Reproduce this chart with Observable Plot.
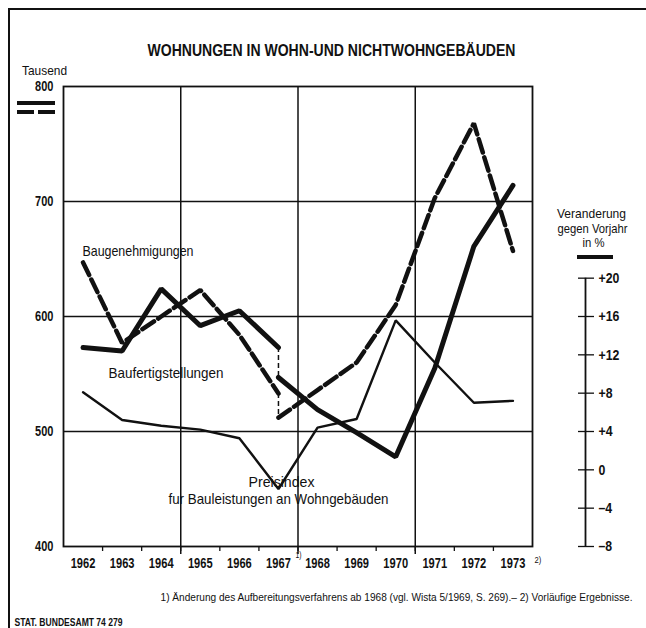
<!DOCTYPE html>
<html>
<head>
<meta charset="utf-8">
<script src="https://cdn.jsdelivr.net/npm/d3@7"></script>
<script src="https://cdn.jsdelivr.net/npm/@observablehq/plot@0.6"></script>
<style>
  body { margin: 0; background: #fff; }
  #wrap { position: relative; width: 646px; height: 628px; overflow: hidden; background: #fff; }
  #wrap svg.key { position: absolute; left: 0; top: 0; }
  .frameL { position: absolute; left: 8px; top: 8px; width: 2px; height: 620px; background: #111; }
  .frameT { position: absolute; left: 8px; top: 8px; width: 638px; height: 2px; background: #111; }
</style>
</head>
<body>
<div id="wrap">
  <div class="frameL"></div>
  <div class="frameT"></div>
</div>
<script>
// ---- data (Tausend Wohnungen; Preisindex in % gegen Vorjahr) ----
const years = [1962, 1963, 1964, 1965, 1966, 1967, 1968, 1969, 1970, 1971, 1972, 1973];
const yearsAlt = [1962, 1963, 1964, 1965, 1966, 1967];          // bisheriges Verfahren
const yearsNeu = [1967, 1968, 1969, 1970, 1971, 1972, 1973];    // ab 1968 geändertes Verfahren
const baugenehmigungenAlt = [647, 577, 600, 623, 584, 533];
const baugenehmigungenNeu = [512, 536, 560, 610, 703, 768, 657];
const baufertigAlt = [573, 570, 624, 592, 605, 573];
const baufertigNeu = [547, 519, 499, 478, 555, 661, 714];
const preisindex = [8.1, 5.2, 4.6, 4.2, 3.3, -2.0, 4.4, 5.3, 15.6, 11.2, 7.0, 7.2];
const leftTicks = [400, 500, 600, 700, 800];
const rightTicks = [-8, -4, 0, 4, 8, 12, 16, 20];
const rightTickLabels = ["–8", "–4", "0", "+4", "+8", "+12", "+16", "+20"];

// right axis (% change) is tied to the left axis: +4 % ↔ 500, 1 % ↔ 100/12 Tausend
const pctToV = p => 500 + (p - 4) * 100 / 12;

const font = '"Liberation Sans","Arial",sans-serif';
const ink = "#111";

const mkRows = (xs, vs) => xs.map((x, i) => ({x, v: vs[i]}));
const genAlt = mkRows(yearsAlt, baugenehmigungenAlt);
const genNeu = mkRows(yearsNeu, baugenehmigungenNeu);
const fertAlt = mkRows(yearsAlt, baufertigAlt);
const fertNeu = mkRows(yearsNeu, baufertigNeu);
const preis = mkRows(years, preisindex);
const bruch = [
  {x: 1967, v1: baugenehmigungenAlt[baugenehmigungenAlt.length - 1], v2: baugenehmigungenNeu[0]},
  {x: 1967, v1: baufertigAlt[baufertigAlt.length - 1], v2: baufertigNeu[0]}
];

const boundaries = years.slice(0, -1).map(y => y + 0.5);
const gridYears = [1964.5, 1967.5, 1970.5];

const X0 = 63, Y0 = 86;
const lab = (t, px, py, o = {}) =>
  Plot.text([t], {text: d => d, frameAnchor: "top-left", dx: px - X0, dy: py - Y0, fill: ink, textAnchor: "middle", ...o});

// target widths of the condensed lettering
const T = {
  title: "WOHNUNGEN IN WOHN-UND NICHTWOHNGEBÄUDEN",
  gen: "Baugenehmigungen",
  fert: "Baufertigstellungen",
  p1: "Preisindex",
  p2: "fur Bauleistungen an Wohngebäuden",
  foot: "1) Änderung des Aufbereitungsverfahrens ab 1968 (vgl. Wista 5/1969, S. 269).– 2) Vorläufige Ergebnisse.",
  stat: "STAT. BUNDESAMT 74 279",
  r1: "Veranderung", r2: "gegen Vorjahr", r3: "in %"
};
const widths = new Map([
  [T.title, 368], [T.gen, 111], [T.fert, 115], [T.p1, 66], [T.p2, 220],
  [T.stat, 108], [T.r1, 69], [T.r2, 70], [T.r3, 22], ["Tausend", 45]
]);

const chart = Plot.plot({
  width: 646,
  height: 628,
  marginLeft: 63,
  marginRight: 114,
  marginTop: 86,
  marginBottom: 82,
  style: {fontFamily: font, background: "transparent", color: ink, overflow: "visible"},
  x: {domain: [1961.5, 1973.5], label: null},
  y: {domain: [400, 800], label: null},
  marks: [
    Plot.gridY([500, 600, 700], {stroke: ink, strokeOpacity: 1, strokeWidth: 1.5}),
    Plot.gridX(gridYears, {stroke: ink, strokeOpacity: 1, strokeWidth: 1.5}),
    Plot.frame({stroke: ink, strokeWidth: 1.8}),
    Plot.axisY(leftTicks, {tickSize: 0, tickPadding: 10, fontSize: 14.5, fontWeight: "bold", label: null}),
    Plot.axisX(boundaries, {tickSize: 5, tickFormat: () => "", label: null, strokeWidth: 1.3}),
    Plot.axisX(gridYears, {tickSize: 8, tickFormat: () => "", label: null, strokeWidth: 1.5}),
    Plot.axisX(years, {tickSize: 0, tickPadding: 11, fontSize: 15, fontWeight: "bold", tickFormat: d => String(d), label: null}),
    // right axis: Veränderung gegen Vorjahr in %
    Plot.ruleX([1973.5], {y1: pctToV(-8), y2: pctToV(20), dx: 53, stroke: ink, strokeWidth: 1.8}),
    Plot.axisY(rightTicks.map(pctToV), {anchor: "right", dx: 45, tickSize: 16, tickPadding: 5, fontSize: 15, fontWeight: "bold",
      tickFormat: (d, i) => rightTickLabels[i], label: null, strokeWidth: 1.3}),
    // Preisindex (thin)
    Plot.line(preis, {x: "x", y: d => pctToV(d.v), stroke: ink, strokeWidth: 2.4, strokeLinejoin: "miter"}),
    // Baugenehmigungen (dashed, thick)
    Plot.line(genAlt, {x: "x", y: "v", stroke: ink, strokeWidth: 4.5, strokeDasharray: "14,5", strokeLinejoin: "miter"}),
    Plot.line(genNeu, {x: "x", y: "v", stroke: ink, strokeWidth: 4.5, strokeDasharray: "14,5", strokeLinejoin: "miter"}),
    // Baufertigstellungen (solid, thick)
    Plot.line(fertAlt, {x: "x", y: "v", stroke: ink, strokeWidth: 5, strokeLinejoin: "miter"}),
    Plot.line(fertNeu, {x: "x", y: "v", stroke: ink, strokeWidth: 5, strokeLinejoin: "miter"}),
    // Bruch 1967/68
    Plot.ruleX(bruch, {x: "x", y1: "v1", y2: "v2", stroke: ink, strokeWidth: 1.5, strokeDasharray: "5,3"}),
    // texts
    lab(T.title, 331, 44, {fontSize: 16.5, fontWeight: "bold"}),
    lab("Tausend", 44, 65, {fontSize: 13}),
    lab(T.gen, 82, 245, {fontSize: 14.5, textAnchor: "start"}),
    lab(T.fert, 108, 367, {fontSize: 14.5, textAnchor: "start"}),
    lab(T.p1, 281, 476, {fontSize: 14.5}),
    lab(T.p2, 278, 493, {fontSize: 14.5}),
    lab(T.r1, 591, 208, {fontSize: 13}),
    lab(T.r2, 592, 223, {fontSize: 13}),
    lab(T.r3, 593, 237, {fontSize: 13}),
    lab("1)", 295, 551, {fontSize: 8.5, textAnchor: "start"}),
    lab("2)", 534, 556, {fontSize: 9.5, textAnchor: "start"}),
    lab(T.foot, 632, 593, {fontSize: 10.1, textAnchor: "end"}),
    lab(T.stat, 14, 618, {fontSize: 10.5, fontWeight: "bold", textAnchor: "start"})
  ]
});
document.getElementById("wrap").appendChild(chart);

// condense the lettering (the original uses a condensed grotesque)
const leftLabels = new Set(leftTicks.map(String));
chart.querySelectorAll("text").forEach(t => {
  const s = t.textContent;
  if (!s || s === T.foot) return;
  const L = t.getComputedTextLength();
  if (!L) return;
  let target;
  if (widths.has(s)) target = widths.get(s);
  else if (/^\d{4}$/.test(s)) target = L * 0.74;
  else if (leftLabels.has(s)) target = L * 0.76;
  else if (rightTickLabels.includes(s)) target = L * 0.82;
  else target = L * 0.8;
  t.setAttribute("textLength", target);
  t.setAttribute("lengthAdjust", "spacingAndGlyphs");
});

// legend keys (line samples) beside the axes
const ns = "http://www.w3.org/2000/svg";
const key = document.createElementNS(ns, "svg");
key.setAttribute("class", "key");
key.setAttribute("width", 646);
key.setAttribute("height", 628);
const addLine = (x1, y1, x2, y2, w, dash) => {
  const l = document.createElementNS(ns, "line");
  l.setAttribute("x1", x1); l.setAttribute("y1", y1);
  l.setAttribute("x2", x2); l.setAttribute("y2", y2);
  l.setAttribute("stroke", ink); l.setAttribute("stroke-width", w);
  if (dash) l.setAttribute("stroke-dasharray", dash);
  key.appendChild(l);
};
addLine(17, 103, 55, 103, 4);
addLine(17, 112, 55, 112, 4, "17,4");
addLine(577, 257, 613, 257, 4);
document.getElementById("wrap").appendChild(key);
</script>
</body>
</html>
